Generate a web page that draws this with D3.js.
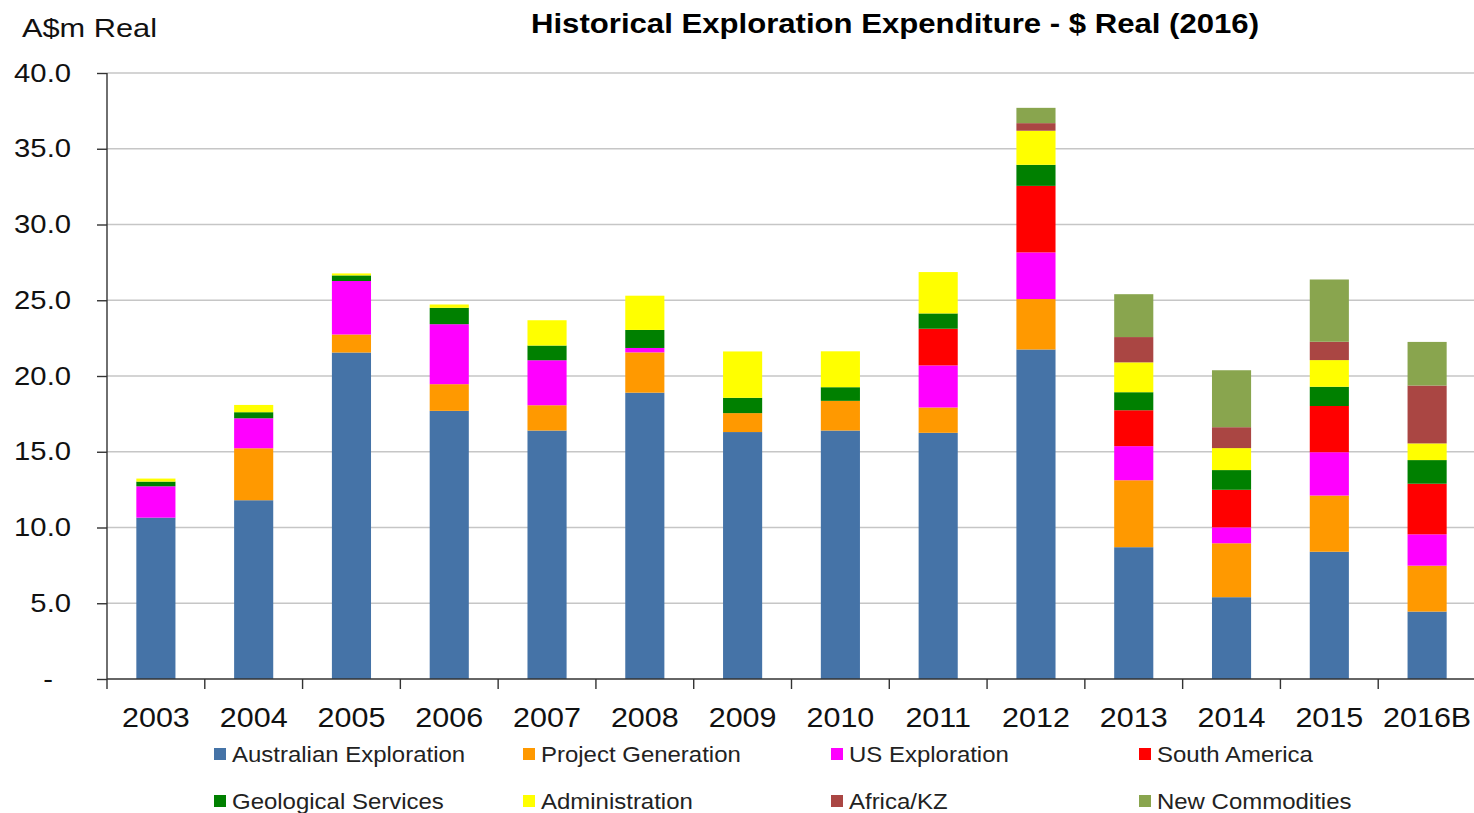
<!DOCTYPE html>
<html>
<head>
<meta charset="utf-8">
<script src="https://cdn.jsdelivr.net/npm/d3@7/dist/d3.min.js"></script>
<style>
  html, body { margin: 0; padding: 0; background: #fff; }
  svg { display: block; font-family: "Liberation Sans", Arial, sans-serif; }
</style>
</head>
<body>
<svg id="chart" width="1474" height="813"></svg>
<script>
const years = ["2003","2004","2005","2006","2007","2008","2009","2010","2011","2012","2013","2014","2015","2016B"];
const seriesNames = ["Australian Exploration","Project Generation","US Exploration","South America","Geological Services","Administration","Africa/KZ","New Commodities"];
const seriesColors = ["#4573a7","#ff9900","#ff00ff","#ff0000","#008000","#ffff00","#aa4643","#89a54e"];

const australianExploration = [10.65, 11.8, 21.55, 17.7, 16.4, 18.9, 16.3, 16.4, 16.25, 21.75, 8.7, 5.4, 8.4, 4.45];
const projectGeneration     = [0, 3.43, 1.19, 1.76, 1.67, 2.66, 1.25, 1.96, 1.67, 3.33, 4.42, 3.56, 3.71, 3.03];
const usExploration         = [2.07, 1.98, 3.53, 3.96, 2.97, 0.29, 0, 0, 2.78, 3.08, 2.25, 1.05, 2.86, 2.07];
const southAmerica          = [0, 0, 0, 0, 0, 0, 0, 0, 2.42, 4.39, 2.37, 2.48, 3.05, 3.34];
const geologicalServices    = [0.31, 0.4, 0.37, 1.08, 0.97, 1.19, 1.01, 0.9, 1.01, 1.39, 1.19, 1.3, 1.27, 1.56];
const administration        = [0.2, 0.48, 0.13, 0.22, 1.67, 2.26, 3.06, 2.37, 2.73, 2.25, 1.97, 1.45, 1.76, 1.1];
const africaKZ              = [0, 0, 0, 0, 0, 0, 0, 0, 0, 0.5, 1.67, 1.38, 1.21, 3.82];
const newCommodities        = [0, 0, 0, 0, 0, 0, 0, 0, 0, 1.01, 2.83, 3.76, 4.11, 2.88];

const yTicks = [0, 5, 10, 15, 20, 25, 30, 35, 40];
const titleText = "Historical  Exploration Expenditure - $ Real (2016)";
const yAxisTitle = "A$m Real";

(function () {
const seriesValues = [australianExploration, projectGeneration, usExploration, southAmerica,
                      geologicalServices, administration, africaKZ, newCommodities];

const table = years.map((yr, i) => {
  const row = { year: yr };
  seriesNames.forEach((s, k) => row[s] = seriesValues[k][i]);
  return row;
});

const svg = d3.select("#chart");
const pLeft = 107, pRight = 1476, pTop = 73, pBottom = 679;

const x = d3.scaleBand().domain(years).range([pLeft, pRight]).paddingInner(0).paddingOuter(0);
const y = d3.scaleLinear().domain([0, 40]).range([pBottom, pTop]);

function stretch(sel, sx) {
  sel.each(function () {
    const t = d3.select(this);
    const xx = +t.attr("x") || 0;
    t.attr("transform", `translate(${xx * (1 - sx)},0) scale(${sx},1)`);
  });
}

// gridlines
svg.append("g").selectAll("line")
  .data(yTicks.filter(d => d > 0))
  .join("line")
  .attr("x1", pLeft).attr("x2", 1474)
  .attr("y1", d => y(d)).attr("y2", d => y(d))
  .attr("stroke", "#c6c6c6").attr("stroke-width", 1.6);

// bars
const stacked = d3.stack().keys(seriesNames)(table);
const bw = x.bandwidth() * 0.4;
svg.append("g").selectAll("g")
  .data(stacked)
  .join("g")
  .attr("fill", (d, i) => seriesColors[i])
  .selectAll("rect")
  .data(d => d.filter(p => p[1] - p[0] > 0))
  .join("rect")
  .attr("x", d => x(d.data.year) + (x.bandwidth() - bw) / 2)
  .attr("width", bw)
  .attr("y", d => y(d[1]))
  .attr("height", d => y(d[0]) - y(d[1]));

// y axis
const yAxis = svg.append("g")
  .attr("transform", `translate(${pLeft},0)`)
  .call(d3.axisLeft(y).tickValues(yTicks).tickSize(10).tickPadding(26)
    .tickFormat(d => d === 0 ? "-" : d.toFixed(1)));
yAxis.select(".domain").attr("d", `M0,${pTop}V${pBottom + 10}`).attr("stroke", "#333").attr("stroke-width", 1.4);
yAxis.selectAll(".tick line").attr("stroke", "#333").attr("stroke-width", 1.4);
yAxis.selectAll(".tick text")
  .attr("fill", "#111").attr("font-size", 25)
  .attr("font-family", "'Liberation Sans', Arial, sans-serif")
  .attr("x", d => d === 0 ? -54 : -36)
  .call(stretch, 1.17);

// x axis line and boundary ticks
const xAxisG = svg.append("g");
xAxisG.append("line").attr("x1", pLeft).attr("x2", 1474).attr("y1", pBottom).attr("y2", pBottom)
  .attr("stroke", "#333").attr("stroke-width", 1.4);
xAxisG.selectAll("line.bt")
  .data(years.slice(1))
  .join("line").attr("class", "bt")
  .attr("x1", d => x(d)).attr("x2", d => x(d))
  .attr("y1", pBottom).attr("y2", pBottom + 10)
  .attr("stroke", "#333").attr("stroke-width", 1.4);
xAxisG.selectAll("text")
  .data(years)
  .join("text")
  .attr("x", d => x(d) + x.bandwidth() / 2)
  .attr("y", 727)
  .attr("text-anchor", "middle")
  .attr("font-size", 28)
  .attr("fill", "#111")
  .text(d => d)
  .call(stretch, 1.09);

// titles
svg.append("text")
  .attr("x", 895).attr("y", 33)
  .attr("text-anchor", "middle")
  .attr("font-size", 27).attr("font-weight", "bold").attr("fill", "#000")
  .attr("textLength", 728).attr("lengthAdjust", "spacingAndGlyphs")
  .text(titleText);
svg.append("text")
  .attr("x", 22).attr("y", 37)
  .attr("font-size", 25.5).attr("fill", "#111")
  .attr("textLength", 135).attr("lengthAdjust", "spacingAndGlyphs")
  .text(yAxisTitle);

// legend
const legX = [214, 523, 831, 1139];
const legY = [754, 801];
const leg = svg.append("g").selectAll("g")
  .data(seriesNames)
  .join("g")
  .attr("transform", (d, i) => `translate(${legX[i % 4]},${legY[Math.floor(i / 4)]})`);
leg.append("rect").attr("x", 0).attr("y", -6).attr("width", 12).attr("height", 12)
  .attr("fill", (d, i) => seriesColors[i]);
leg.append("text").attr("x", 18).attr("y", 8)
  .attr("font-size", 22).attr("fill", "#222")
  .text(d => d)
  .call(stretch, 1.09);
})();
</script>
</body>
</html>
